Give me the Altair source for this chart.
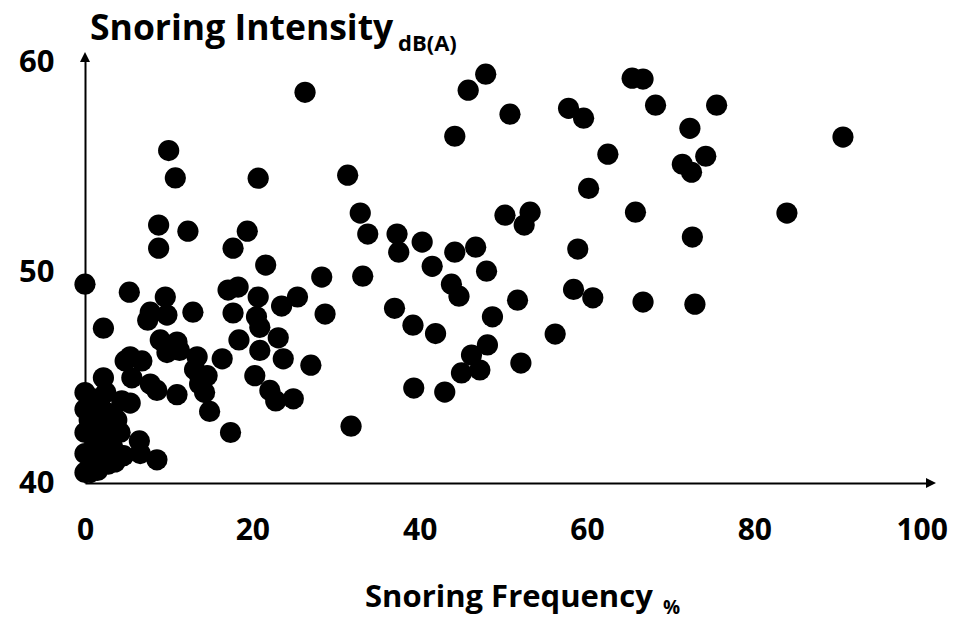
import altair as alt
import pandas as pd

# Snoring frequency (%) and snoring intensity (dB(A))
freq = [
    47.9, 45.8, 50.8, 44.2, 65.4, 66.7, 68.2, 57.8, 59.6, 72.3,
    62.5, 71.4, 72.5, 74.2, 75.5, 90.6, 83.9, 60.2, 50.2, 53.2,
    52.5, 65.8, 72.6, 58.9, 40.3, 44.2, 46.7, 48.0, 43.8, 44.7,
    51.7, 58.4, 60.7, 66.7, 72.9, 37.0, 39.2, 41.9, 48.7, 56.2,
    48.1, 46.2, 45.0, 47.2, 52.1, 39.3, 43.0,
    26.3, 20.7, 31.4, 32.9, 33.8, 37.3, 37.5, 41.5, 19.4, 17.7,
    21.6, 28.3, 33.2, 17.1, 18.3, 20.7, 25.4, 23.5, 17.7, 28.7,
    20.5, 20.9, 18.4, 23.1, 20.9, 23.7, 16.4, 20.3, 13.7, 14.3,
    14.9, 22.1, 22.8, 24.9, 27.0, 31.8, 17.4,
    0.0, 5.3, 2.2, 9.6, 7.8, 7.5, 9.8, 12.9, 9.0, 11.0,
    11.3, 9.8, 13.4, 13.1, 14.6, 13.7, 5.4, 4.8, 6.8, 2.2,
    5.6, 7.8, 8.6, 5.4, 4.4, 11.0, 6.5, 8.6, 6.6, 3.6,
    3.3, 0.0, 0.0, 0.0, 0.0, 0.0, 1.6, 2.2, 1.8, 1.4,
    3.8, 4.2, 3.0, 0.6, 10.0, 10.8, 8.8, 8.8, 12.3,
    1.0, 0.8, 1.2, 2.6, 2.8, 1.5, 3.0, 2.5, 4.6, 0.5,
    3.4, 1.9,
]
intensity = [
    59.43, 58.67, 57.53, 56.48, 59.24, 59.2, 57.96, 57.81, 57.34, 56.86,
    55.63, 55.15, 54.77, 55.53, 57.96, 56.44, 52.83, 54.0, 52.73, 52.87,
    52.26, 52.87, 51.69, 51.12, 51.45, 50.97, 51.21, 50.07, 49.45, 48.88,
    48.69, 49.2, 48.8, 48.6, 48.5, 48.3, 47.5, 47.1, 47.9, 47.08,
    46.56, 46.08, 45.23, 45.37, 45.7, 44.51, 44.32,
    58.57, 54.49, 54.63, 52.83, 51.83, 51.83, 50.97, 50.3, 51.97, 51.16,
    50.36, 49.79, 49.83, 49.17, 49.31, 48.84, 48.84, 48.41, 48.08, 48.03,
    47.9, 47.4, 46.8, 46.9, 46.3, 45.9, 45.9, 45.1, 45.1, 44.3,
    43.4, 44.4, 43.9, 44.0, 45.6, 42.7, 42.4,
    49.45, 49.07, 47.36, 48.84, 48.12, 47.74, 47.98, 48.12, 46.8, 46.7,
    46.3, 46.2, 46.0, 45.4, 45.1, 44.7, 46.0, 45.8, 45.8, 45.0,
    45.0, 44.7, 44.4, 43.8, 43.9, 44.2, 42.0, 41.1, 41.4, 41.0,
    41.7, 44.3, 43.5, 42.4, 41.4, 40.5, 43.8, 42.9, 42.0, 41.1,
    43.0, 42.4, 43.3, 40.5, 55.8, 54.5, 52.26, 51.16, 51.97,
    44.0, 42.8, 41.8, 41.5, 40.9, 40.6, 42.2, 44.3, 41.3, 43.0,
    41.2, 43.6,
]

x_ticks = [0, 20, 40, 60, 80, 100]
y_ticks = [40, 50, 60]
x_title = ["Snoring Frequency"]
x_title_sub = ["%"]
y_title = ["Snoring Intensity"]
y_title_sub = ["dB(A)"]

X_MIN, X_MAX = 0, 101
Y_MIN, Y_MAX = 40, 60.2
FONT = "Open Sans"

df = pd.DataFrame({"freq": freq, "intensity": intensity})

xscale = alt.Scale(domain=[X_MIN, X_MAX], nice=False, zero=False)
yscale = alt.Scale(domain=[Y_MIN, Y_MAX], nice=False, zero=False)

xaxis = alt.Axis(values=x_ticks, title=None, ticks=False, grid=False,
                 domainColor="black", domainWidth=2, labelFont=FONT,
                 labelFontWeight="bold", labelFontSize=30, labelColor="black",
                 labelPadding=32, labelFlush=False, labelOverlap=False)
yaxis = alt.Axis(values=y_ticks, title=None, ticks=False, grid=False,
                 domainColor="black", domainWidth=2, labelFont=FONT,
                 labelFontWeight="bold", labelFontSize=31, labelColor="black",
                 labelPadding=31, labelFlush=False, labelOverlap=False)

X = alt.X("freq:Q", scale=xscale, axis=xaxis)
Y = alt.Y("intensity:Q", scale=yscale, axis=yaxis)

points = alt.Chart(df).mark_circle(size=450, color="black", opacity=1).encode(x=X, y=Y)

arrow_up = alt.Chart(pd.DataFrame({"freq": [X_MIN], "intensity": [Y_MAX]})).mark_point(
    shape="M0,-1.2L-1,0.8L1,0.8Z", size=100, filled=True, color="black", opacity=1, strokeWidth=0
).encode(x=X, y=Y)
arrow_right = alt.Chart(pd.DataFrame({"freq": [X_MAX], "intensity": [Y_MIN]})).mark_point(
    shape="M1.2,0L-0.8,-1L-0.8,1Z", size=100, filled=True, color="black", opacity=1, strokeWidth=0
).encode(x=X, y=Y)


def label(text, size, px, py):
    return alt.Chart(pd.DataFrame({"t": text})).mark_text(
        align="left", baseline="alphabetic", font=FONT, fontWeight="bold",
        fontSize=size, color="black"
    ).encode(x=alt.value(px), y=alt.value(py), text="t:N")


chart = alt.layer(
    points, arrow_up, arrow_right,
    label(y_title, 35.5, 5, -18),
    label(y_title_sub, 22, 313, -7),
    label(x_title, 31, 280, 549),
    label(x_title_sub, 19, 578, 556),
).properties(
    width=845, height=425,
    autosize=alt.AutoSizeParams(type="none"),
    padding={"left": 77, "top": 50, "right": 22, "bottom": 137},
).configure_view(stroke=None)

chart.save("out.html", embed_options={"renderer": "svg", "actions": False})
